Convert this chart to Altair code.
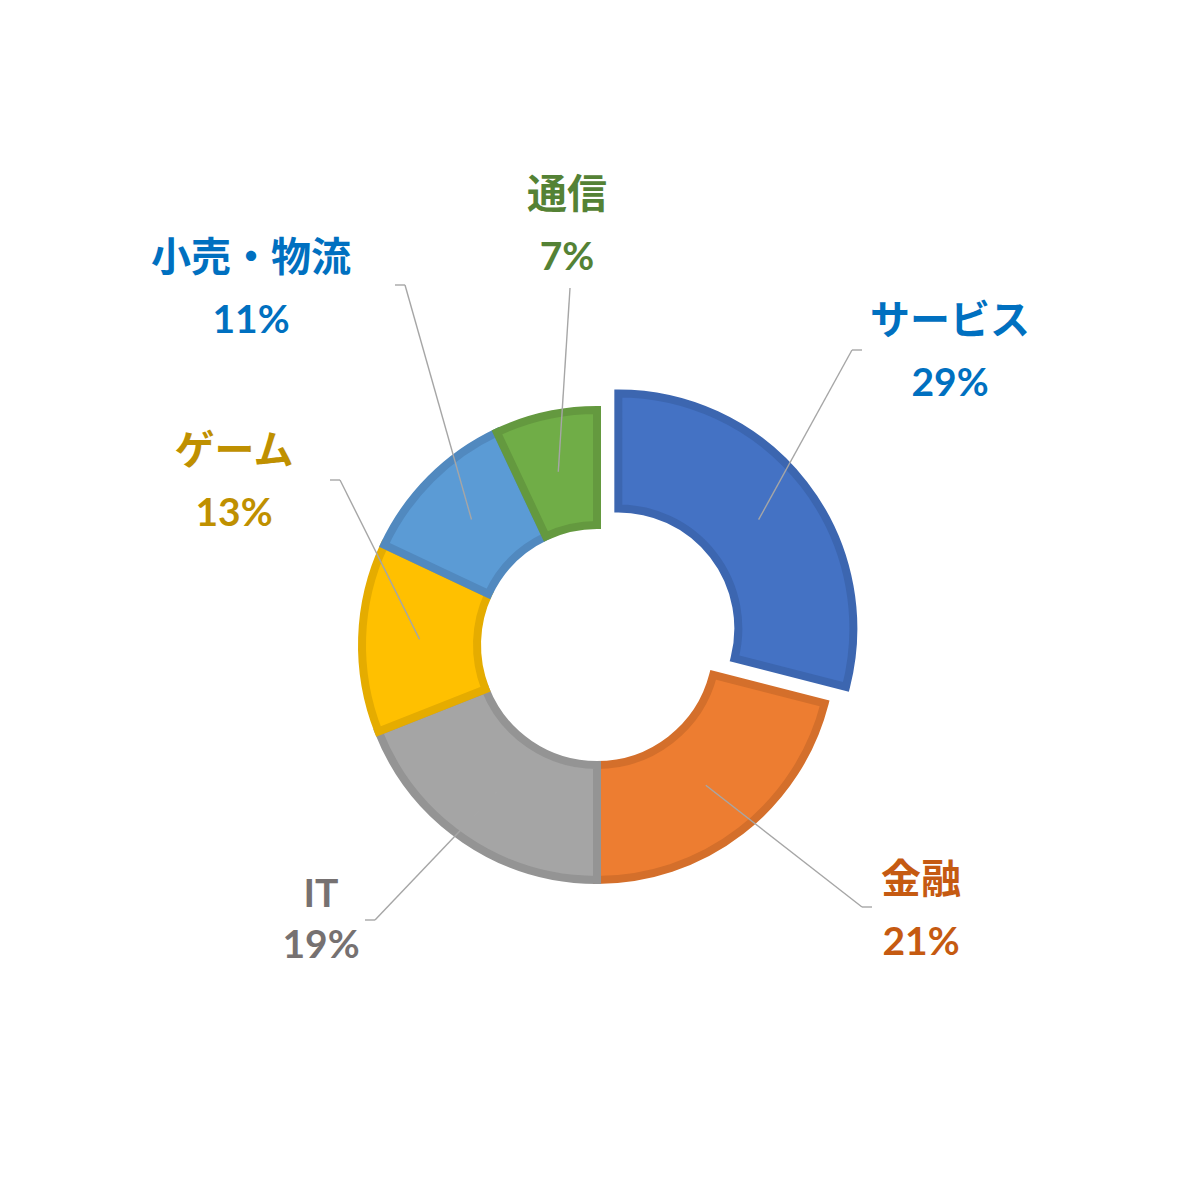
import math
import altair as alt
import pandas as pd

# ---- data ----
categories = ["サービス", "金融", "IT", "ゲーム", "小売・物流", "通信"]
values = [29, 21, 19, 13, 11, 7]

# ---- styles ----
fill_colors = ["#4472C4", "#ED7D31", "#A5A5A5", "#FFC000", "#5B9BD5", "#70AD47"]
stroke_colors = ["#3C66B0", "#D46F2B", "#949494", "#E5AC00", "#5189BF", "#64993F"]
label_colors = ["#0070C0", "#C55A11", "#767171", "#BF9000", "#0070C0", "#548235"]
FONT = "Noto Sans CJK JP"
LATIN_FONT = "Lato, Noto Sans CJK JP"
NAME_SIZE = 40
PCT_SIZE = 39

# ---- layout ----
W = H = 1186
CX, CY = 589, 637          # pie centre in chart pixels
R_OUT, R_IN = 235, 120     # ring radii
STROKE_W = 8
EXPLODE = [27, 0, 0, 0, 0, 0]
# label (percent line) offsets from the pie centre
LABEL_DX = [353, 324, -276, -363, -346, -30]
LABEL_DY = [-261, 298, 301, -131, -324, -387]
# leader-line elbow offsets from the pie centre, and hook length
ELBOW_DX = [255, 265, -222, -257, -192, -27]
ELBOW_DY = [-295, 262, 275, -165, -360, -357]
HOOK = [10, 10, -10, -10, -10, 0]

df = pd.DataFrame({
    "order": list(range(len(categories))),
    "category": categories,
    "value": values,
    "fillc": fill_colors,
    "strokec": stroke_colors,
    "labelc": label_colors,
    "explode": EXPLODE,
    "ldx": LABEL_DX,
    "ldy": LABEL_DY,
    "edx": ELBOW_DX,
    "edy": ELBOW_DY,
    "hook": HOOK,
    "gap": [51 if c.isascii() else 62 for c in categories],
    "latin": [c.isascii() for c in categories],
})

base = alt.Chart(df).transform_window(
    cum="sum(value)", sort=[alt.SortField("order")], frame=[None, 0]
).transform_calculate(
    start="datum.cum - datum.value",
    mid="(datum.cum - datum.value / 2) / 100 * 2 * PI",
    cx=f"{CX} + datum.explode * sin(datum.mid)",
    cy=f"{CY} - datum.explode * cos(datum.mid)",
)

arcs = base.mark_arc(
    outerRadius=R_OUT, innerRadius=R_IN, strokeWidth=STROKE_W, strokeJoin="miter"
).encode(
    theta=alt.Theta("start:Q", scale=alt.Scale(domain=[0, 100], range=[0, 2 * math.pi])),
    theta2="cum:Q",
    x=alt.X("cx:Q", scale=None),
    y=alt.Y("cy:Q", scale=None),
    fill=alt.Fill("fillc:N", scale=None),
    stroke=alt.Stroke("strokec:N", scale=None),
    order=alt.Order("order:Q"),
)

rm = (R_OUT + R_IN) / 2
lines_base = base.transform_calculate(
    sx=f"datum.cx + {rm} * sin(datum.mid)",
    sy=f"datum.cy - {rm} * cos(datum.mid)",
    ex=f"{CX} + datum.edx",
    ey=f"{CY} + datum.edy",
    hx=f"{CX} + datum.edx + datum.hook",
)

leader = lines_base.mark_rule(color="#A6A6A6", strokeWidth=1.4).encode(
    x=alt.X("sx:Q", scale=None), y=alt.Y("sy:Q", scale=None),
    x2="ex:Q", y2="ey:Q",
)
hooks = lines_base.mark_rule(color="#A6A6A6", strokeWidth=1.4).encode(
    x=alt.X("ex:Q", scale=None), y=alt.Y("ey:Q", scale=None),
    x2="hx:Q", y2="ey:Q",
)

text_base = base.transform_calculate(
    lx=f"{CX} + datum.ldx",
    py=f"{CY} + datum.ldy",
    ny=f"{CY} + datum.ldy - datum.gap",
    pct="datum.value + '%'",
)

names_cjk = text_base.transform_filter("!datum.latin").mark_text(
    font=FONT, fontSize=NAME_SIZE, fontWeight="bold", align="center", baseline="middle"
).encode(
    x=alt.X("lx:Q", scale=None), y=alt.Y("ny:Q", scale=None),
    text="category:N", color=alt.Color("labelc:N", scale=None),
)
names_latin = text_base.transform_filter("datum.latin").mark_text(
    font=LATIN_FONT, fontSize=PCT_SIZE, fontWeight="bold", align="center", baseline="middle"
).encode(
    x=alt.X("lx:Q", scale=None), y=alt.Y("ny:Q", scale=None),
    text="category:N", color=alt.Color("labelc:N", scale=None),
)
pcts = text_base.mark_text(
    font=LATIN_FONT, fontSize=PCT_SIZE, fontWeight="bold", align="center", baseline="middle"
).encode(
    x=alt.X("lx:Q", scale=None), y=alt.Y("py:Q", scale=None),
    text="pct:N", color=alt.Color("labelc:N", scale=None),
)

chart = alt.layer(arcs, leader, hooks, names_cjk, names_latin, pcts).properties(
    width=W, height=H, padding=0, autosize="none", background="white"
).configure_view(stroke=None)

chart.save("out.html", embed_options={"renderer": "svg", "actions": False})
